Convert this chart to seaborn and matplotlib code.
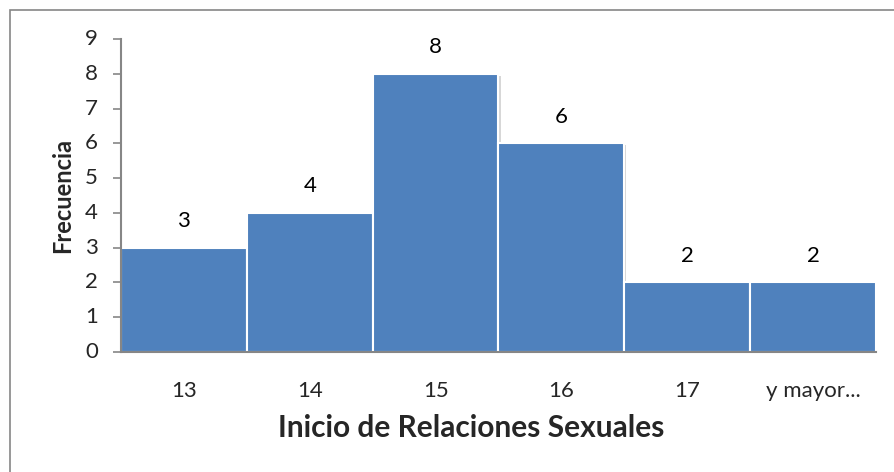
import matplotlib
matplotlib.use("Agg")
import matplotlib.pyplot as plt
import matplotlib.patches as mpatches
import matplotlib.patheffects as pe
import seaborn as sns
import pandas as pd

# Frequency table
categories = ["13", "14", "15", "16", "17", "y mayor..."]
frequencies = [3, 4, 8, 6, 2, 2]
y_ticks = list(range(0, 10))

df = pd.DataFrame({"edad": categories, "frecuencia": frequencies})

sns.set_theme(style="white")
plt.rcParams["font.family"] = ["Lato", "DejaVu Sans"]

fig = plt.figure(figsize=(8.94, 4.72), dpi=100)
ax = fig.add_axes([121 / 894, 1 - 352 / 472, (876 - 121) / 894, (352 - 39) / 472])

bar_color = "#4F81BD"
sns.barplot(data=df, x="edad", y="frecuencia", order=categories, color=bar_color,
            saturation=1, width=1.0, edgecolor="white", linewidth=1.5, ax=ax)

for patch in ax.patches:
    patch.set_path_effects([pe.SimplePatchShadow(offset=(1.5, -1.5), shadow_rgbFace="#bdbdbd", alpha=0.6),
                            pe.Normal()])

# Value labels above each bar
for i, v in enumerate(frequencies):
    ax.annotate(str(v), xy=(i, v), xytext=(0, 19), textcoords="offset points",
                ha="center", va="center", fontsize=16, color="black")

ax.set_xlim(-0.5, len(categories) - 0.5)
ax.set_ylim(0, 9)
ax.set_yticks(y_ticks)
ax.set_yticklabels([str(t) for t in y_ticks], fontsize=16)
ax.tick_params(axis="y", which="both", left=True, length=5.5, width=1.2, color="#868686", pad=11)
ax.tick_params(axis="x", which="both", bottom=False, pad=15, labelsize=16)
for lbl in ax.get_yticklabels():
    lbl.set_verticalalignment("center")

for side in ["top", "right"]:
    ax.spines[side].set_visible(False)
for side in ["left", "bottom"]:
    ax.spines[side].set_color("#868686")
    ax.spines[side].set_linewidth(1.5)

ax.set_xlabel("Inicio de Relaciones Sexuales", fontsize=21.5, fontweight="bold")
ax.xaxis.set_label_coords(0.4636, -0.243)
ax.xaxis.label.set_verticalalignment("center")
ax.set_ylabel("Frecuencia", fontsize=17, fontweight="bold", labelpad=8)

# Chart area border
fig.patches.append(mpatches.Rectangle((10 / 894, -0.1), 1.2, 1 - 10 / 472 + 0.1,
                                      transform=fig.transFigure, fill=False,
                                      edgecolor="#868686", linewidth=1.2))

fig.savefig("out.png", dpi=100)
